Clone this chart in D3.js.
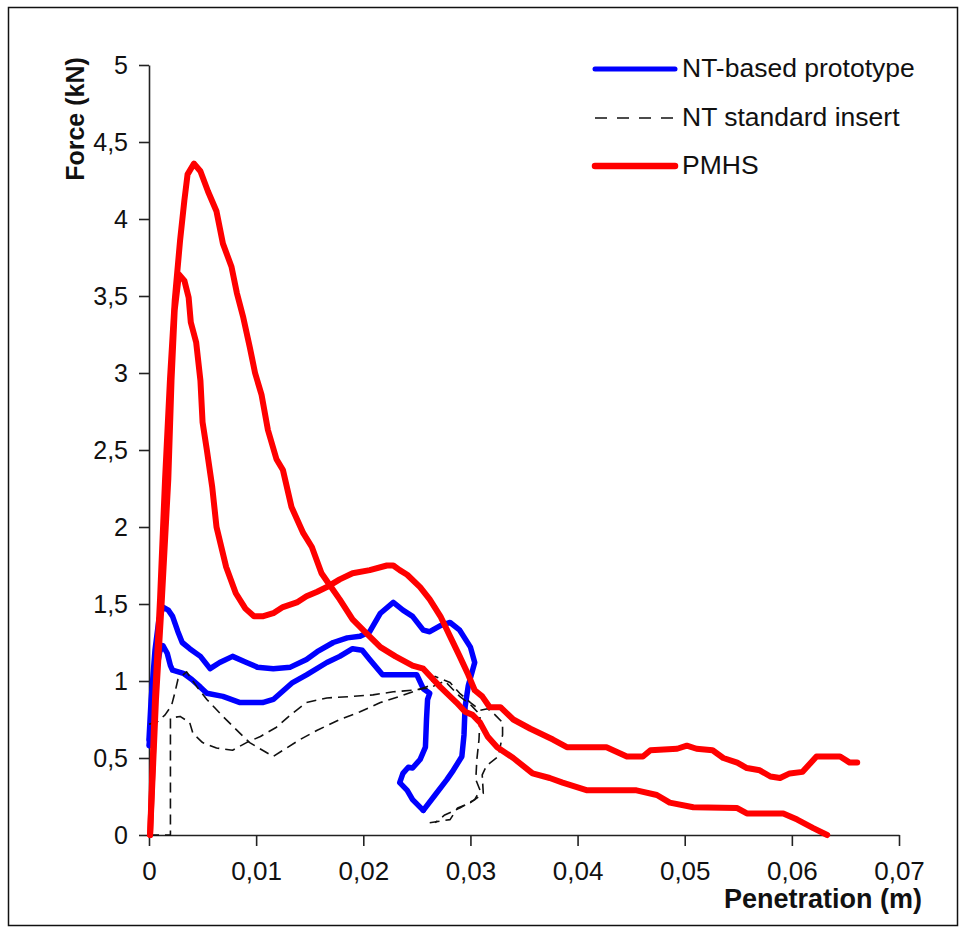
<!DOCTYPE html>
<html>
<head>
<meta charset="utf-8">
<script src="https://cdn.jsdelivr.net/npm/d3@7/dist/d3.min.js"></script>
<style>
  html, body { margin: 0; padding: 0; background: #fff; }
  svg { display: block; font-family: "Liberation Sans", Arial, sans-serif; }
</style>
</head>
<body>
<svg id="chart" width="965" height="931"></svg>
<script>
// ---- DATA (penetration in m, force in kN) ----
const xTicks = [0, 0.01, 0.02, 0.03, 0.04, 0.05, 0.06, 0.07];
const xTickLabels = ["0", "0,01", "0,02", "0,03", "0,04", "0,05", "0,06", "0,07"];
const yTicks = [0, 0.5, 1, 1.5, 2, 2.5, 3, 3.5, 4, 4.5, 5];
const yTickLabels = ["0", "0,5", "1", "1,5", "2", "2,5", "3", "3,5", "4", "4,5", "5"];

const seriesNames = ["NT-based prototype", "NT standard insert", "PMHS"];

// NT-based prototype, test 1 (upper loop)
const protoA = [
  [0,0.62],[0.0002,0.88],[0.00056,1.20],[0.00093,1.40],[0.0013,1.48],[0.0018,1.46],[0.0022,1.42],
  [0.0027,1.32],[0.0031,1.25],[0.0038,1.21],[0.0048,1.16],[0.0057,1.08],[0.0066,1.12],[0.0078,1.16],
  [0.0091,1.12],[0.0101,1.09],[0.0116,1.08],[0.0132,1.09],[0.0147,1.14],[0.0157,1.19],[0.0172,1.25],
  [0.0185,1.28],[0.0197,1.29],[0.0206,1.32],[0.0216,1.44],[0.0228,1.51],[0.0237,1.46],[0.0246,1.42],
  [0.0256,1.33],[0.0262,1.32],[0.0272,1.36],[0.0281,1.38],[0.029,1.33],[0.03,1.22],[0.0304,1.12],
  [0.0302,1.07],[0.0298,0.97],[0.0295,0.83],[0.0294,0.65],[0.0292,0.51],[0.0284,0.42],[0.0278,0.36],
  [0.0267,0.26],[0.0256,0.16]
];
// NT-based prototype, test 2 (lower loop)
const protoB = [
  [0,0.58],[0.0004,0.88],[0.0007,1.07],[0.001,1.19],[0.0013,1.23],[0.0017,1.18],[0.002,1.10],
  [0.0022,1.07],[0.0032,1.05],[0.004,1.01],[0.0048,0.96],[0.0054,0.92],[0.0069,0.90],[0.0085,0.86],
  [0.0106,0.86],[0.0116,0.88],[0.0134,0.99],[0.0147,1.04],[0.0166,1.12],[0.0178,1.16],[0.019,1.21],
  [0.0199,1.20],[0.0206,1.14],[0.0218,1.04],[0.0228,1.04],[0.025,1.04],[0.0256,0.95],[0.0262,0.92],
  [0.026,0.88],[0.0259,0.75],[0.0258,0.57],[0.0253,0.49],[0.0246,0.435],[0.0242,0.44],[0.0237,0.40],
  [0.0234,0.34],[0.0241,0.29],[0.0246,0.23],[0.0256,0.16]
];
// NT standard insert, test 1
const insertA = [
  [0,0.72],[0.0007,0.73],[0.0015,0.78],[0.0021,0.84],[0.0024,0.92],[0.0027,1.01],[0.0035,1.06],
  [0.0045,0.96],[0.0054,0.88],[0.0069,0.77],[0.0085,0.66],[0.0094,0.60],[0.0106,0.55],[0.0116,0.51],
  [0.0125,0.55],[0.0141,0.62],[0.0157,0.68],[0.0178,0.75],[0.0197,0.80],[0.0216,0.86],[0.0234,0.90],
  [0.025,0.94],[0.0262,0.97],[0.0267,1.03],[0.0281,0.99],[0.029,0.92],[0.03,0.86],[0.0309,0.81],
  [0.0316,0.82],[0.0323,0.78],[0.033,0.73],[0.033,0.65],[0.0326,0.51],[0.0315,0.45],[0.0311,0.39],
  [0.0312,0.27],[0.03,0.21],[0.0288,0.175],[0.0281,0.10],[0.0262,0.08]
];
// NT standard insert, test 2
const insertB = [
  [0,0],[0.002,0],[0.002,0.76],[0.0029,0.77],[0.0038,0.73],[0.0041,0.66],[0.005,0.60],[0.0063,0.565],
  [0.0078,0.55],[0.0091,0.60],[0.0104,0.64],[0.0119,0.70],[0.0132,0.78],[0.0147,0.86],[0.0166,0.89],
  [0.019,0.90],[0.0209,0.91],[0.0228,0.93],[0.0246,0.94],[0.0262,0.955],[0.0276,1.0],[0.029,0.90],
  [0.0301,0.84],[0.0309,0.78],[0.0308,0.62],[0.0306,0.49],[0.0305,0.36],[0.0309,0.29],[0.0304,0.23],
  [0.029,0.175],[0.0276,0.13],[0.0267,0.08]
];
// PMHS, test 1 (peak 4.36 kN)
const pmhsA = [
  [0.0001,0],[0.00056,0.88],[0.00103,1.53],[0.0015,2.31],[0.00196,2.96],[0.0024,3.47],[0.0029,3.86],
  [0.0033,4.12],[0.0036,4.29],[0.0042,4.36],[0.0048,4.31],[0.0055,4.18],[0.0063,4.05],[0.0069,3.84],
  [0.0077,3.69],[0.0082,3.52],[0.0088,3.36],[0.0094,3.17],[0.0099,3.0],[0.0105,2.86],[0.0111,2.63],
  [0.0119,2.44],[0.0125,2.37],[0.0133,2.13],[0.0144,1.96],[0.0152,1.87],[0.0161,1.70],[0.0167,1.64],
  [0.0178,1.53],[0.019,1.40],[0.0203,1.31],[0.0216,1.22],[0.023,1.16],[0.0246,1.10],[0.0256,1.08],
  [0.0272,0.96],[0.0287,0.86],[0.0295,0.80],[0.0302,0.78],[0.0309,0.73],[0.0316,0.64],[0.0325,0.57],
  [0.034,0.50],[0.0358,0.40],[0.0374,0.37],[0.0386,0.34],[0.0409,0.29],[0.0455,0.29],[0.0474,0.26],
  [0.0486,0.21],[0.0508,0.18],[0.0549,0.175],[0.0558,0.14],[0.0592,0.14],[0.0605,0.10],[0.062,0.045],
  [0.0633,0]
];
// PMHS, test 2 (peak 3.64 kN)
const pmhsB = [
  [0.0001,0],[0.00065,0.88],[0.0012,1.53],[0.0018,2.31],[0.0021,2.95],[0.0024,3.41],[0.0028,3.64],
  [0.0033,3.60],[0.0037,3.49],[0.0039,3.33],[0.0044,3.20],[0.0048,2.95],[0.005,2.68],[0.0054,2.50],
  [0.0059,2.26],[0.0063,2.00],[0.0072,1.74],[0.0081,1.57],[0.009,1.47],[0.0098,1.42],[0.0106,1.42],
  [0.0116,1.44],[0.0125,1.48],[0.0138,1.51],[0.0147,1.55],[0.0157,1.58],[0.0166,1.61],[0.0178,1.66],
  [0.019,1.70],[0.0206,1.72],[0.0222,1.75],[0.0228,1.75],[0.0234,1.72],[0.0241,1.69],[0.0253,1.61],
  [0.0262,1.53],[0.0272,1.42],[0.0281,1.29],[0.029,1.16],[0.0298,1.04],[0.0304,0.94],[0.0311,0.90],
  [0.0318,0.83],[0.0328,0.83],[0.034,0.75],[0.0356,0.69],[0.0377,0.62],[0.039,0.57],[0.0427,0.57],
  [0.0446,0.51],[0.0461,0.51],[0.0468,0.55],[0.0493,0.56],[0.0502,0.58],[0.0511,0.56],[0.0526,0.55],
  [0.0536,0.50],[0.0549,0.47],[0.0558,0.435],[0.057,0.42],[0.058,0.38],[0.0589,0.37],[0.0598,0.40],
  [0.061,0.41],[0.0623,0.51],[0.0645,0.51],[0.0654,0.47],[0.0661,0.47]
];

// ---- DRAWING ----
const svg = d3.select("#chart");

svg.append("rect")
  .attr("x", 8.5).attr("y", 7.5).attr("width", 949).attr("height", 918)
  .attr("fill", "none").attr("stroke", "#111").attr("stroke-width", 1.5);

const x = d3.scaleLinear().domain([0, 0.07]).range([149, 899]);
const y = d3.scaleLinear().domain([0, 5]).range([835, 65]);

const xAxis = d3.axisBottom(x)
  .tickValues(xTicks)
  .tickFormat((d, i) => xTickLabels[i])
  .tickSize(11).tickSizeOuter(0).tickPadding(16);
const yAxis = d3.axisLeft(y)
  .tickValues(yTicks)
  .tickFormat((d, i) => yTickLabels[i])
  .tickSize(10).tickSizeOuter(0).tickPadding(11);

const gx = svg.append("g").attr("transform", "translate(0,835)").call(xAxis);
const gy = svg.append("g").attr("transform", "translate(149,0)").call(yAxis);

[gx, gy].forEach(g => {
  g.select(".domain").attr("stroke", "#222").attr("stroke-width", 1.6);
  g.selectAll(".tick line").attr("stroke", "#222").attr("stroke-width", 1.6);
  g.selectAll(".tick text").attr("fill", "#111")
    .style("font-family", "'Liberation Sans', Arial, sans-serif");
});
gx.selectAll(".tick text").style("font-size", "26px");
gy.selectAll(".tick text").style("font-size", "25px");

const line = d3.line().x(d => x(d[0])).y(d => y(d[1]));

const blueStyle = { stroke: "#0000ff", width: 5.5, dash: null };
const blackStyle = { stroke: "#111", width: 1.6, dash: "10,6" };
const redStyle = { stroke: "#ff0000", width: 6, dash: null };

function drawCurve(data, st) {
  const p = svg.append("path")
    .attr("d", line(data))
    .attr("fill", "none")
    .attr("stroke", st.stroke)
    .attr("stroke-width", st.width)
    .attr("stroke-linejoin", "round")
    .attr("stroke-linecap", st.dash ? "butt" : "round");
  if (st.dash) p.attr("stroke-dasharray", st.dash);
}

drawCurve(protoA, blueStyle);
drawCurve(protoB, blueStyle);
drawCurve(insertA, blackStyle);
drawCurve(insertB, blackStyle);
drawCurve(pmhsA, redStyle);
drawCurve(pmhsB, redStyle);

// Legend
const legendStyles = [{ stroke: "#0000ff", width: 5, dash: null }, { stroke: "#111", width: 1.6, dash: "12,10" }, { stroke: "#ff0000", width: 6.5, dash: null }];
const legendY = [69, 118, 166];
seriesNames.forEach((name, i) => {
  const st = legendStyles[i];
  const l = svg.append("line")
    .attr("x1", 595).attr("x2", 675)
    .attr("y1", legendY[i]).attr("y2", legendY[i])
    .attr("stroke", st.stroke).attr("stroke-width", st.width)
    .attr("stroke-linecap", st.dash ? "butt" : "round");
  if (st.dash) l.attr("stroke-dasharray", st.dash);
  svg.append("text")
    .attr("x", 682).attr("y", legendY[i] + 8)
    .style("font-size", "26.5px").attr("fill", "#111")
    .text(name);
});

// Axis titles
svg.append("text")
  .attr("transform", "translate(84,119) rotate(-90)")
  .attr("text-anchor", "middle")
  .style("font-size", "25px").style("font-weight", "bold").attr("fill", "#111")
  .text("Force (kN)");

svg.append("text")
  .attr("x", 922).attr("y", 908)
  .attr("text-anchor", "end")
  .style("font-size", "27px").style("font-weight", "bold").attr("fill", "#111")
  .text("Penetration (m)");
</script>
</body>
</html>
